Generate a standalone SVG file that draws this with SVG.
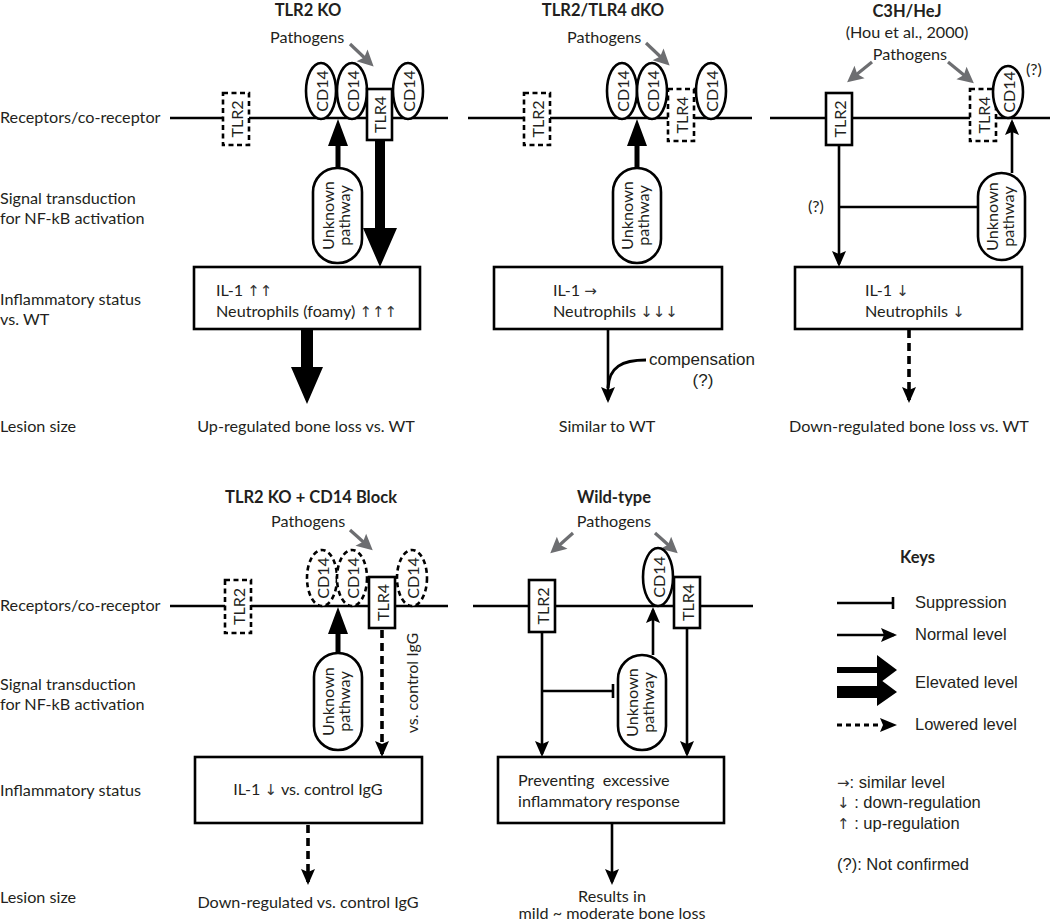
<svg xmlns="http://www.w3.org/2000/svg" width="1050" height="922" viewBox="0 0 1050 922">
<style>
text{font-family:Lato,"DejaVu Sans",sans-serif;font-size:16.2px;fill:#231f20}
.b{font-weight:bold;font-size:16.5px}
.m{text-anchor:middle}
.k{font-family:"Liberation Sans",Arial,sans-serif;font-size:16.5px}
.ar{font-family:"DejaVu Sans",sans-serif;font-size:15px;fill:#333}
.r{text-anchor:middle;dominant-baseline:central;font-size:16px}
.box{fill:#fff;stroke:#000;stroke-width:2.6}
.dbox{fill:#fff;stroke:#000;stroke-width:2.6;stroke-dasharray:5 3.5}
.ln{fill:none;stroke:#000;stroke-width:2.6}
.na{fill:none;stroke:#000;stroke-width:2.6;marker-end:url(#ah)}
.da{fill:none;stroke:#000;stroke-width:3.6;stroke-dasharray:8 5;marker-end:url(#ah)}
.ga{fill:none;stroke:#6d6e71;stroke-width:3.2;marker-end:url(#gh)}
.fill{fill:#000;stroke:none}
</style>
<defs>
<marker id="ah" markerUnits="userSpaceOnUse" markerWidth="18" markerHeight="16" refX="13" refY="7" orient="auto" overflow="visible">
<path d="M0,0 L16,7 L0,14 L3,7 Z" fill="#000"/>
</marker>
<marker id="gh" markerUnits="userSpaceOnUse" markerWidth="18" markerHeight="18" refX="11" refY="8" orient="auto" overflow="visible">
<path d="M0,0 L16,8 L0,16 L3,8 Z" fill="#6d6e71"/>
</marker>
</defs>

<g id="row-labels">
<text x="0" y="123">Receptors/co-receptor</text>
<text x="0" y="204">Signal transduction</text>
<text x="0" y="224">for NF-kB activation</text>
<text x="0" y="305">Inflammatory status</text>
<text x="0" y="325">vs. WT</text>
<text x="0" y="432">Lesion size</text>
<text x="0" y="611">Receptors/co-receptor</text>
<text x="0" y="690">Signal transduction</text>
<text x="0" y="710">for NF-kB activation</text>
<text x="0" y="796">Inflammatory status</text>
<text x="0" y="903">Lesion size</text>
</g>

<g id="connectors">
<path class="ln" d="M170,118 H448 M468,118 H752 M770,118 H1050 M170,606 H448 M473,606 H753"/>
<path class="ga" d="M350,44 L370,63"/>
<path class="ga" d="M646,43 L666,62"/>
<path class="ga" d="M872,62 L851,79"/>
<path class="ga" d="M948,62 L970,80"/>
<path class="ga" d="M350,530 L369,547"/>
<path class="ga" d="M573,533 L554,550"/>
<path class="ga" d="M655,533 L674,550"/>
<!-- panel 1 -->
<polygon class="fill" points="335.5,168 340.5,168 340.5,146 348,146 338,119 328,146 335.5,146"/>
<polygon class="fill" points="375,140 385,140 385,228 397,228 380,267 363,228 375,228"/>
<polygon class="fill" points="301,329 313,329 313,367 323,367 307,404 291,367 301,367"/>
<!-- panel 2 -->
<polygon class="fill" points="634.5,168 639.5,168 639.5,146 647,146 637,119 627,146 634.5,146"/>
<path class="na" d="M608,329 V400"/>
<path class="ln" d="M646,360 C622,360 609,367 608,388" style="stroke-width:3"/>
<!-- panel 3 -->
<path class="na" d="M839,145 V264"/>
<path class="ln" d="M839,207 H982 M982,200 V214"/>
<path class="na" d="M1012,173 V122"/>
<path class="da" d="M909,330 V400"/>
<!-- bottom panel 1 -->
<polygon class="fill" points="335.5,653 340.5,653 340.5,634 348,634 338,607 328,634 335.5,634"/>
<path class="da" d="M382,630 V754"/>
<path class="da" d="M308,825 V882"/>
<!-- wild-type -->
<path class="na" d="M653,655 V610"/>
<path class="na" d="M542,632 V754"/>
<path class="ln" d="M542,691 H613 M613,684 V698"/>
<path class="na" d="M687,628 V754"/>
<path class="na" d="M612,823 V882"/>
</g>

<g id="panel-tlr2ko">
<text class="b m" x="308" y="16">TLR2 KO</text>
<text x="270" y="43">Pathogens</text>
<rect class="dbox" x="223" y="93" width="26" height="52"/>
<text class="r" transform="translate(236,119) rotate(-90)">TLR2</text>
<ellipse class="box" cx="321" cy="91" rx="15" ry="28"/>
<text class="r" transform="translate(321,91) rotate(-90)">CD14</text>
<ellipse class="box" cx="352" cy="91" rx="15" ry="28"/>
<text class="r" transform="translate(352,91) rotate(-90)">CD14</text>
<rect class="box" x="367" y="89" width="25" height="51"/>
<text class="r" transform="translate(379.5,114.5) rotate(-90)">TLR4</text>
<ellipse class="box" cx="408" cy="91" rx="15" ry="28"/>
<text class="r" transform="translate(408,91) rotate(-90)">CD14</text>
<rect class="box" x="313" y="168" width="49" height="95" rx="24"/>
<g transform="translate(337.5,215.5) rotate(-90)"><text class="m" y="-4">Unknown</text><text class="m" y="12">pathway</text></g>
<rect class="box" x="194" y="267" width="226" height="62"/>
<text x="216" y="296">IL-1 <tspan class="ar">↑↑</tspan></text>
<text x="216" y="317">Neutrophils (foamy) <tspan class="ar">↑↑↑</tspan></text>
<text class="m" x="306" y="432">Up-regulated bone loss vs. WT</text>
</g>

<g id="panel-dko">
<text class="b m" x="603" y="16">TLR2/TLR4 dKO</text>
<text x="567" y="43">Pathogens</text>
<rect class="dbox" x="524" y="93" width="26" height="52"/>
<text class="r" transform="translate(537,119) rotate(-90)">TLR2</text>
<ellipse class="box" cx="622" cy="91" rx="15" ry="28"/>
<text class="r" transform="translate(622,91) rotate(-90)">CD14</text>
<ellipse class="box" cx="652" cy="91" rx="15" ry="28"/>
<text class="r" transform="translate(652,91) rotate(-90)">CD14</text>
<rect class="dbox" x="668" y="89" width="26" height="52"/>
<text class="r" transform="translate(681,115) rotate(-90)">TLR4</text>
<ellipse class="box" cx="711" cy="91" rx="15" ry="28"/>
<text class="r" transform="translate(711,91) rotate(-90)">CD14</text>
<rect class="box" x="613" y="168" width="48" height="95" rx="24"/>
<g transform="translate(637,215.5) rotate(-90)"><text class="m" y="-4">Unknown</text><text class="m" y="12">pathway</text></g>
<rect class="box" x="494" y="267" width="228" height="62"/>
<text x="553" y="296">IL-1 <tspan class="ar">→</tspan></text>
<text x="553" y="317">Neutrophils <tspan class="ar">↓↓↓</tspan></text>
<text class="k" x="649" y="365" style="font-size:17px">compensation</text>
<text class="k m" x="703" y="386" style="font-size:17px">(?)</text>
<text class="m" x="607" y="432">Similar to WT</text>
</g>

<g id="panel-c3h">
<text class="b m" x="907" y="17">C3H/HeJ</text>
<text class="m" x="907" y="38">(Hou et al., 2000)</text>
<text class="m" x="910" y="60">Pathogens</text>
<rect class="box" x="826" y="93" width="26" height="52"/>
<text class="r" transform="translate(839,119) rotate(-90)">TLR2</text>
<rect class="dbox" x="970" y="89" width="26" height="52"/>
<text class="r" transform="translate(983,115) rotate(-90)">TLR4</text>
<ellipse class="box" cx="1008" cy="92" rx="15" ry="26"/>
<text class="r" transform="translate(1008,92) rotate(-90)">CD14</text>
<text x="1026" y="75">(?)</text>
<text x="808" y="212">(?)</text>
<rect class="box" x="978" y="173" width="47" height="87" rx="23.5"/>
<g transform="translate(1001.5,216.5) rotate(-90)"><text class="m" y="-4">Unknown</text><text class="m" y="12">pathway</text></g>
<rect class="box" x="795" y="267" width="227" height="62"/>
<text x="865" y="296">IL-1 <tspan class="ar">↓</tspan></text>
<text x="865" y="317">Neutrophils <tspan class="ar">↓</tspan></text>
<text class="m" x="909" y="432">Down-regulated bone loss vs. WT</text>
</g>

<g id="panel-cd14block">
<text class="b m" x="311" y="503">TLR2 KO + CD14 Block</text>
<text x="271" y="527">Pathogens</text>
<rect class="dbox" x="225" y="580" width="26" height="53"/>
<text class="r" transform="translate(238,606.5) rotate(-90)">TLR2</text>
<ellipse class="dbox" cx="322" cy="578" rx="15" ry="28"/>
<text class="r" transform="translate(322,578) rotate(-90)">CD14</text>
<ellipse class="dbox" cx="352" cy="578" rx="15" ry="28"/>
<text class="r" transform="translate(352,578) rotate(-90)">CD14</text>
<rect class="box" x="369" y="577" width="26" height="51"/>
<text class="r" transform="translate(382,602.5) rotate(-90)">TLR4</text>
<ellipse class="dbox" cx="412" cy="578" rx="15" ry="28"/>
<text class="r" transform="translate(412,578) rotate(-90)">CD14</text>
<rect class="box" x="314" y="653" width="48" height="97" rx="24"/>
<g transform="translate(338,701.5) rotate(-90)"><text class="m" y="-4">Unknown</text><text class="m" y="12">pathway</text></g>
<text class="r" transform="translate(411,683) rotate(-90)">vs. control IgG</text>
<rect class="box" x="195" y="757" width="227" height="66"/>
<text class="m" x="308" y="795">IL-1 <tspan class="ar">↓</tspan> vs. control IgG</text>
<text class="m" x="308" y="908">Down-regulated vs. control IgG</text>
</g>

<g id="panel-wildtype">
<text class="b m" x="614" y="503">Wild-type</text>
<text class="m" x="614" y="527">Pathogens</text>
<rect class="box" x="529" y="580" width="26" height="52"/>
<text class="r" transform="translate(542,606) rotate(-90)">TLR2</text>
<ellipse class="box" cx="658" cy="577" rx="15" ry="29"/>
<text class="r" transform="translate(658,577) rotate(-90)">CD14</text>
<rect class="box" x="674" y="577" width="26" height="51"/>
<text class="r" transform="translate(687,602.5) rotate(-90)">TLR4</text>
<rect class="box" x="618" y="655" width="48" height="95" rx="24"/>
<g transform="translate(642,702.5) rotate(-90)"><text class="m" y="-4">Unknown</text><text class="m" y="12">pathway</text></g>
<rect class="box" x="498" y="757" width="226" height="66"/>
<text x="518" y="786" xml:space="preserve">Preventing  excessive</text>
<text x="518" y="807">inflammatory response</text>
<text class="m" x="612" y="902">Results in</text>
<text class="m" x="612" y="919">mild ~ moderate bone loss</text>
</g>

<g id="keys">
<text class="b" x="900" y="563">Keys</text>
<path class="ln" d="M837,603 H893 M893,597 V609"/>
<text class="k" x="915" y="608">Suppression</text>
<path class="na" d="M837,635 H894"/>
<text class="k" x="915" y="640">Normal level</text>
<polygon class="fill" points="837,667 877,667 877,655 897,670 877,685 877,673 837,673"/>
<polygon class="fill" points="837,686 877,686 877,677 897,692 877,706 877,698 837,698"/>
<text class="k" x="915" y="688">Elevated level</text>
<path class="ln" d="M837,725 H880" style="stroke-dasharray:5 4;stroke-width:3"/>
<path class="fill" d="M880,718 L897,725 L880,732 L883,725 Z"/>
<text class="k" x="915" y="730">Lowered level</text>
<text class="k" x="837" y="788"><tspan class="ar">→</tspan>: similar level</text>
<text class="k" x="837" y="808"><tspan class="ar">↓</tspan> : down-regulation</text>
<text class="k" x="837" y="829"><tspan class="ar">↑</tspan> : up-regulation</text>
<text class="k" x="837" y="870">(?): Not confirmed</text>
</g>
</svg>
